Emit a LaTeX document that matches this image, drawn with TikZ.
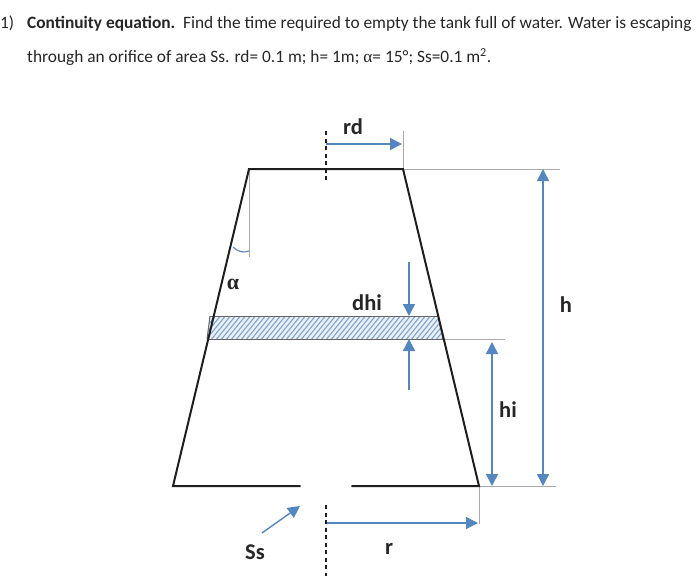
\documentclass[tikz,border=0pt]{standalone}
\usepackage{fontspec}
\setmainfont{Carlito}
\newfontfamily\greekfont{Liberation Serif}
\usetikzlibrary{arrows.meta}
\definecolor{dimblue}{RGB}{84,134,192}
\definecolor{guide}{RGB}{170,170,170}
\definecolor{wall}{RGB}{30,30,30}
\tikzset{
  tankline/.style={draw=wall,line width=2pt},
  guideline/.style={draw=guide,line width=1pt},
  centreline/.style={draw=wall,line width=1.2pt,dash pattern=on 4pt off 3.5pt},
  dimone/.style={draw=dimblue,line width=1.4pt,-{Triangle[length=12pt,width=12pt]}},
  dimtwo/.style={draw=dimblue,line width=1.4pt,{Triangle[length=12pt,width=12pt]}-{Triangle[length=12pt,width=12pt]}},
  dimlabel/.style={font=\fontsize{22.5}{24}\selectfont\bfseries,text=black!85,inner sep=0pt},
  bodytext/.style={font=\fontsize{17.35}{20}\selectfont,text=black!85,inner sep=0pt,anchor=base west}
}
\begin{document}
\begin{tikzpicture}[x=1pt,y=-1pt]
\useasboundingbox (0,0) rectangle (700,586);
\node[bodytext] (no) at (0,29) {1)};
\node[bodytext] (line1) at (27,29) {\textbf{Continuity equation.}\ \ Find the time required to empty the tank full of water. Water is escaping};
\node[bodytext] (line2) at (27,63) {through an orifice of area Ss. rd= 0.1 m; h= 1m; {\greekfont α}= 15°; Ss=0.1 m\textsuperscript{2}.};
\coordinate (tl) at (249,169);
\coordinate (tr) at (403,169);
\coordinate (bl) at (173,486);
\coordinate (br) at (479,486);
\coordinate (gapl) at (300,486);
\coordinate (gapr) at (352,486);
\coordinate (ct1) at (326,131);
\coordinate (ct2) at (326,181);
\coordinate (cb1) at (326,505);
\coordinate (cb2) at (326,576);
% band
\fill[dimblue!12] (210,316) -- (438,316) -- (443,339) -- (207,339) -- cycle;
\begin{scope}
\clip (210,316) -- (438,316) -- (443,339) -- (207,339) -- cycle;
\foreach \k in {0,...,50}{
  \draw[draw=dimblue!75,line width=1.1pt] ({190+5*\k},341) -- ({190+5*\k+22},314);
}
\end{scope}
\draw[guideline,draw=black!60] (210,316) -- (438,316);
\draw[guideline,draw=black!60] (210,316) -- (207,339);
\draw[guideline,draw=black!60] (438,316) -- (443,339);
% guides
\draw[guideline] (tr) -- (403,131);
\draw[guideline] (tr) -- (560,169);
\draw[guideline,draw=black!60] (207,339) -- (443,339);
\draw[guideline] (443,339) -- (505,339);
\draw[guideline] (br) -- (556,486);
\draw[guideline] (br) -- (479,524);
\draw[guideline] (tl) -- (249,257);
\draw[draw=dimblue,line width=1.1pt] (233,247) .. controls (238,252) and (244,253) .. (249,251);
% tank
\draw[tankline,line cap=round] (gapl) -- (bl) -- (tl) -- (tr) -- (br) -- (gapr);
\draw[centreline] (ct1) -- (ct2);
\draw[centreline] (cb1) -- (cb2);
% dims
\draw[dimone] (326,144) -- (402,144);
\draw[dimone] (327,523) -- (478,523);
\draw[dimone] (262,533) -- (300,506);
\draw[dimone] (409,262) -- (409,316);
\draw[dimone] (409,390) -- (409,339);
\draw[dimtwo] (492,342) -- (492,486);
\draw[dimtwo] (543,169) -- (543,486);
% labels
\node[dimlabel] (rd) at (353,127) {rd};
\node[font=\fontsize{22}{24}\selectfont\greekfont\bfseries,text=black!85,inner sep=0pt] (alpha) at (233,284) {α};
\node[dimlabel] (dhi) at (367,303) {dhi};
\node[dimlabel] (h) at (566,305) {h};
\node[dimlabel] (hi) at (508,410) {hi};
\node[dimlabel] (Ss) at (255,552) {Ss};
\node[dimlabel] (r) at (389,549) {r};
\end{tikzpicture}
\end{document}
